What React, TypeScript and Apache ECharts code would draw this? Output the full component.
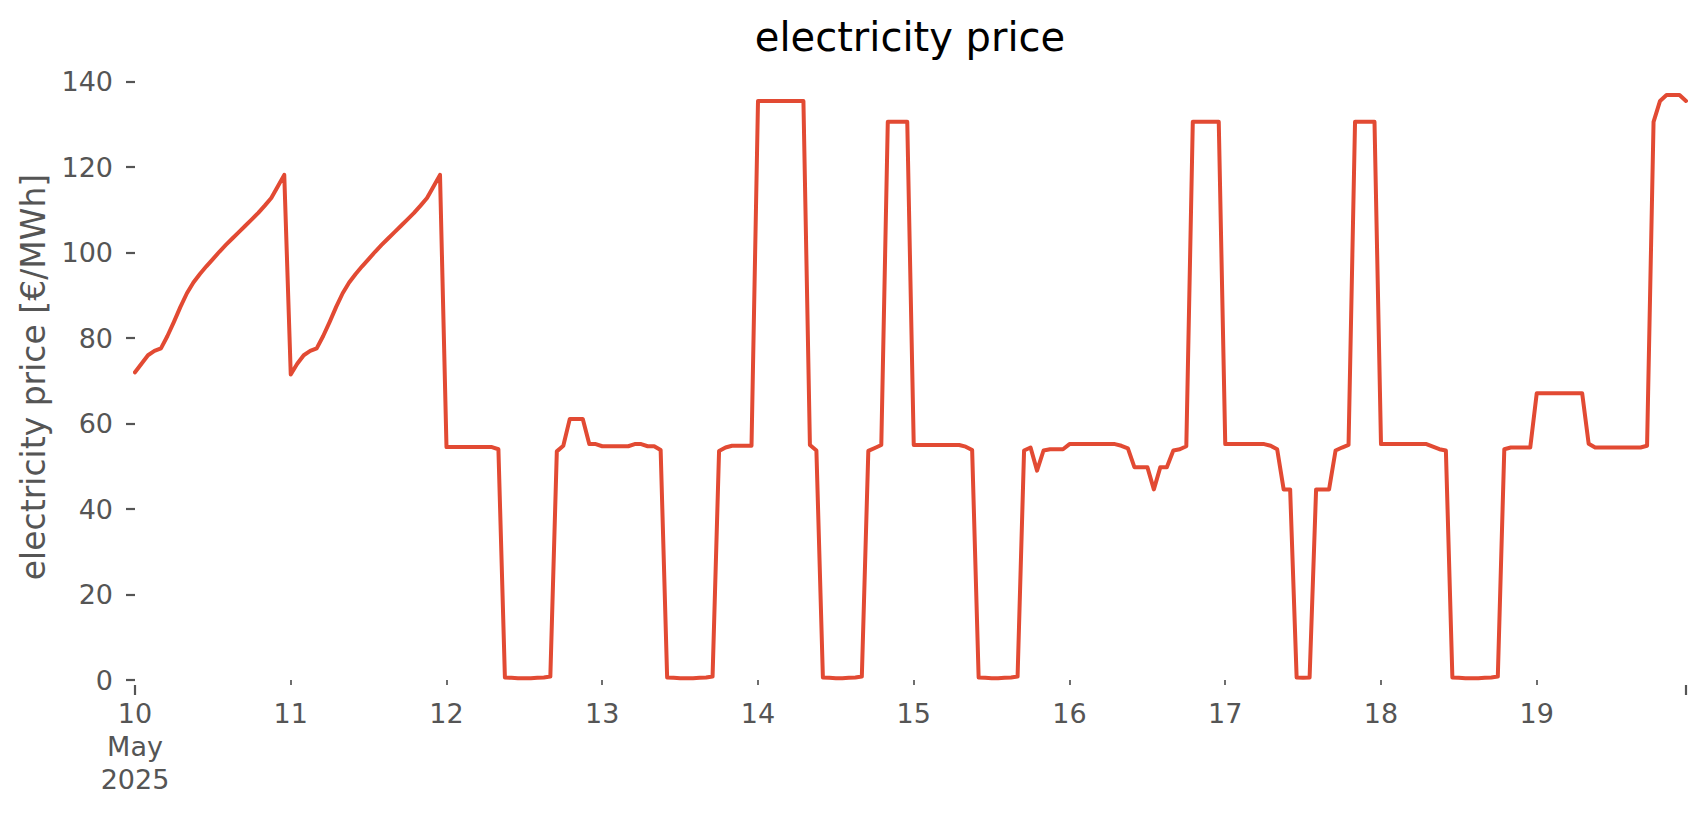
import React, { useEffect, useRef } from "react";
import * as echarts from "echarts";

// Hourly electricity prices [€/MWh], one array per day (May 2025)
const may10 = [72, 74, 76, 77, 77.6, 80.5, 83.8, 87.3, 90.5, 93, 95, 96.8, 98.5, 100.2, 101.8, 103.3, 104.8, 106.3, 107.8, 109.3, 111, 112.8, 115.5, 118.2];
const may11 = [71.5, 74, 76, 77, 77.6, 80.5, 83.8, 87.3, 90.5, 93, 95, 96.8, 98.5, 100.2, 101.8, 103.3, 104.8, 106.3, 107.8, 109.3, 111, 112.8, 115.5, 118.2];
const may12 = [54.5, 54.5, 54.5, 54.5, 54.5, 54.5, 54.5, 54.5, 54, 0.6, 0.5, 0.4, 0.4, 0.4, 0.5, 0.6, 0.8, 53.5, 54.8, 61.1, 61.1, 61.1, 55.2, 55.2];
const may13 = [54.7, 54.7, 54.7, 54.7, 54.7, 55.2, 55.2, 54.7, 54.7, 53.8, 0.6, 0.5, 0.4, 0.4, 0.4, 0.5, 0.6, 0.8, 53.6, 54.4, 54.8, 54.8, 54.8, 54.8];
const may14 = [135.5, 135.5, 135.5, 135.5, 135.5, 135.5, 135.5, 135.5, 55, 53.7, 0.6, 0.5, 0.4, 0.4, 0.5, 0.6, 0.8, 53.6, 54.3, 55, 130.6, 130.6, 130.6, 130.6];
const may15 = [55, 55, 55, 55, 55, 55, 55, 55, 54.6, 53.8, 0.6, 0.5, 0.4, 0.4, 0.5, 0.6, 0.8, 53.7, 54.4, 49, 53.7, 54, 54, 54];
const may16 = [55.2, 55.2, 55.2, 55.2, 55.2, 55.2, 55.2, 55.2, 54.8, 54.2, 49.8, 49.8, 49.8, 44.6, 49.8, 49.8, 53.7, 54, 54.7, 130.6, 130.6, 130.6, 130.6, 130.6];
const may17 = [55.2, 55.2, 55.2, 55.2, 55.2, 55.2, 55.2, 54.8, 54, 44.6, 44.6, 0.6, 0.5, 0.6, 44.6, 44.6, 44.6, 53.7, 54.4, 55, 130.6, 130.6, 130.6, 130.6];
const may18 = [55.2, 55.2, 55.2, 55.2, 55.2, 55.2, 55.2, 55.2, 54.6, 54, 53.7, 0.6, 0.5, 0.4, 0.4, 0.4, 0.5, 0.6, 0.8, 54, 54.4, 54.4, 54.4, 54.4];
const may19 = [67.1, 67.1, 67.1, 67.1, 67.1, 67.1, 67.1, 67.1, 55.3, 54.4, 54.4, 54.4, 54.4, 54.4, 54.4, 54.4, 54.4, 54.8, 130.6, 135.5, 136.9, 136.9, 136.9, 135.5];

const days = [may10, may11, may12, may13, may14, may15, may16, may17, may18, may19];
const dayNumbers = ["10", "11", "12", "13", "14", "15", "16", "17", "18", "19"];
const firstDayLabel = "10\nMay\n2025";
const yTickStep = 20;
const yMax = 140;

const prices: number[] = days.flat();
const times: string[] = [];
days.forEach((d, di) => {
  d.forEach((_, h) => {
    times.push(`2025-05-${dayNumbers[di]} ${String(h).padStart(2, "0")}:00`);
  });
});

const FONT = "DejaVu Sans";
const GREY = "#555555";
const RED = "#E24A33";

export default function App() {
  const ref = useRef<HTMLDivElement>(null);
  useEffect(() => {
    if (!ref.current) return;
    const chart = echarts.init(ref.current, undefined, { renderer: "svg" });
    const labelFor = (idx: number) => {
      const d = Math.floor(idx / 24);
      return d === 0 ? firstDayLabel : dayNumbers[d];
    };
    chart.setOption({
      animation: false,
      backgroundColor: "#ffffff",
      grid: { left: 135, right: 20, top: 81.7, bottom: 135, containLabel: false },
      xAxis: [
        {
          type: "category",
          data: times,
          boundaryGap: false,
          position: "bottom",
          offset: 5,
          axisLine: { show: false },
          axisTick: {
            show: true,
            length: 5,
            interval: (i: number) => i % 24 === 0 && i !== 0,
            lineStyle: { color: GREY, width: 1.7 },
          },
          axisLabel: {
            interval: (i: number) => i % 24 === 0,
            formatter: (_v: string, i: number) => labelFor(i),
            color: GREY,
            fontSize: 27,
            lineHeight: 33,
            margin: 12,
            fontFamily: FONT,
          },
          splitLine: { show: false },
        },
        {
          type: "category",
          data: times,
          boundaryGap: false,
          position: "bottom",
          offset: 5,
          axisLine: { show: false },
          axisTick: {
            show: true,
            length: 10,
            interval: (i: number) => i === 0 || i === times.length - 1,
            lineStyle: { color: GREY, width: 2.2 },
          },
          axisLabel: { show: false },
          splitLine: { show: false },
        },
      ],
      yAxis: {
        type: "value",
        min: 0,
        max: yMax,
        interval: yTickStep,
        axisLine: { show: false },
        axisTick: { show: true, length: 9, lineStyle: { color: GREY, width: 2.2 } },
        axisLabel: { color: GREY, fontSize: 27, margin: 22, fontFamily: FONT },
        splitLine: { show: false },
      },
      series: [
        {
          type: "line",
          name: "electricity price",
          data: prices,
          xAxisIndex: 0,
          showSymbol: false,
          symbol: "none",
          lineStyle: { color: RED, width: 4, join: "round", cap: "round" },
          itemStyle: { color: RED },
        },
      ],
      graphic: [
        {
          type: "text",
          x: 910,
          y: 37,
          style: {
            text: "electricity price",
            fontSize: 40,
            fontFamily: FONT,
            fill: "#000000",
            align: "center",
            verticalAlign: "middle",
          },
        },
        {
          type: "text",
          x: 33,
          y: 377,
          rotation: Math.PI / 2,
          style: {
            text: "electricity price [€/MWh]",
            fontSize: 33,
            fontFamily: FONT,
            fill: GREY,
            align: "center",
            verticalAlign: "middle",
          },
        },
      ],
    });
    return () => chart.dispose();
  }, []);
  return (
    <div
      ref={ref}
      style={{ position: "absolute", left: 0, top: 0, width: 1706, height: 815 }}
    />
  );
}
